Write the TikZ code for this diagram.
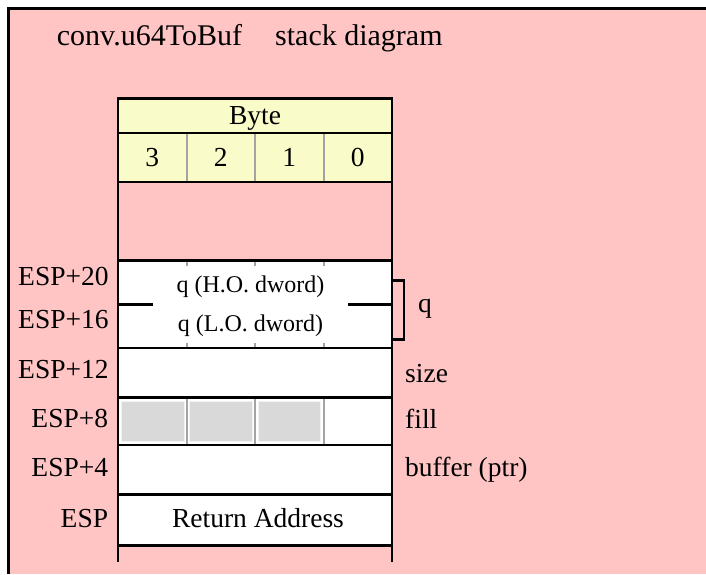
\documentclass[tikz,border=0pt]{standalone}
\usepackage{fontspec}
\setmainfont{Liberation Serif}
\definecolor{bgpink}{HTML}{FFC5C5}
\definecolor{hdryellow}{HTML}{F9FBC8}
\definecolor{cellgray}{HTML}{D9D9D9}
\definecolor{cellrim}{HTML}{F2F2F2}
\definecolor{divgray}{HTML}{A3A3A3}
\tikzset{
  blk/.style={draw=black, line width=2.7pt},
  rowbox/.style={blk, inner sep=0pt, outer sep=0pt, minimum width=274pt, anchor=north west},
  divline/.style={draw=divgray, line width=2pt},
  graycell/.style={fill=cellgray, draw=cellrim, line width=1pt},
  bigtxt/.style={inner sep=0pt, font=\fontsize{27.5}{31}\selectfont},
  smalltxt/.style={inner sep=0pt, font=\fontsize{24}{28}\selectfont},
  titletxt/.style={inner sep=0pt, font=\fontsize{30}{34}\selectfont},
}
\begin{document}
\begin{tikzpicture}[x=1pt,y=-1pt]
\useasboundingbox (0,0) rectangle (706,574);
\fill[white] (0,0) rectangle (706,574);
\fill[bgpink] (8.7,8.7) rectangle (706,574);
\draw[blk] (8.7,574) -- (8.7,8.7) -- (706,8.7);

% title
\node[titletxt, anchor=base west] (title) at (56.7,45) {\makebox[218.3pt][l]{conv.u64ToBuf}stack diagram};

% row fills (drawn first)
\fill[hdryellow] (118,98.5) rectangle (392,182);
\fill[white] (118,260.7) rectangle (392,545.7);

% gray cells in fill row
\draw[graycell] (121.5,401) rectangle (184.3,441);
\draw[graycell] (189.5,401) rectangle (252.3,441);
\draw[graycell] (258,401) rectangle (320.5,441);

% gray dividers
\foreach \x in {186.5,255,323.5} {
  \draw[divline] (\x,133) -- (\x,182);
  \draw[divline] (\x,397.7) -- (\x,445);
  \draw[divline] (\x,260.7) -- (\x,266);
  \draw[divline] (\x,343) -- (\x,348);
}

% rows (black frames)
\node[rowbox, minimum height=34.5pt] (byterow) at (118,98.5) {};
\node[rowbox, minimum height=49pt] (digitrow) at (118,133) {};
\node[rowbox, minimum height=78.7pt] (emptyrow) at (118,182) {};
\node[rowbox, minimum height=87.3pt] (qrow) at (118,260.7) {};
\node[rowbox, minimum height=49.7pt] (sizerow) at (118,348) {};
\node[rowbox, minimum height=47.3pt] (fillrow) at (118,397.7) {};
\node[rowbox, minimum height=49.3pt] (bufrow) at (118,445) {};
\node[rowbox, minimum height=51.4pt] (retrow) at (118,494.3) {};
\draw[blk] (retrow.south west) -- ++(0,16);
\draw[blk] (retrow.south east) -- ++(0,16);

% partial middle line in q row
\draw[blk] (qrow.west) -- ++(35,0);
\draw[blk] (qrow.east) -- ++(-44,0);

% bracket for q
\coordinate (bt) at (392,280.7);
\coordinate (bb) at (392,339.3);
\draw[blk] (bt) -- ++(12,0) |- (bb);

% header texts
\node[bigtxt, anchor=base] (byte) at (255,124) {Byte};
\node[bigtxt, anchor=base] (d3) at (152.25,166.7) {3};
\node[bigtxt, anchor=base] (d2) at (220.75,166.7) {2};
\node[bigtxt, anchor=base] (d1) at (289.25,166.7) {1};
\node[bigtxt, anchor=base] (d0) at (357.75,166.7) {0};

% left labels
\node[bigtxt, anchor=base east] (l20) at (108.8,285) {ESP+20};
\node[bigtxt, anchor=base east] (l16) at (108.8,328.5) {ESP+16};
\node[bigtxt, anchor=base east] (l12) at (108.8,378) {ESP+12};
\node[bigtxt, anchor=base east] (l8) at (108.3,427) {ESP+8};
\node[bigtxt, anchor=base east] (l4) at (108.3,476.5) {ESP+4};
\node[bigtxt, anchor=base east] (l0) at (108.3,527) {ESP};

% cell texts
\node[smalltxt, anchor=base] (qhi) at (250.5,292) {q (H.O. dword)};
\node[smalltxt, anchor=base] (qlo) at (250.5,331) {q (L.O. dword)};
\node[bigtxt, anchor=base] (ret) at (258,527) {Return Address};

% right labels
\node[bigtxt, anchor=base west] (rq) at (418,312) {q};
\node[bigtxt, anchor=base west] (rsize) at (405,382.5) {size};
\node[bigtxt, anchor=base west] (rfill) at (405,428) {fill};
\node[bigtxt, anchor=base west] (rbuf) at (405,476.5) {buffer (ptr)};
\end{tikzpicture}
\end{document}
